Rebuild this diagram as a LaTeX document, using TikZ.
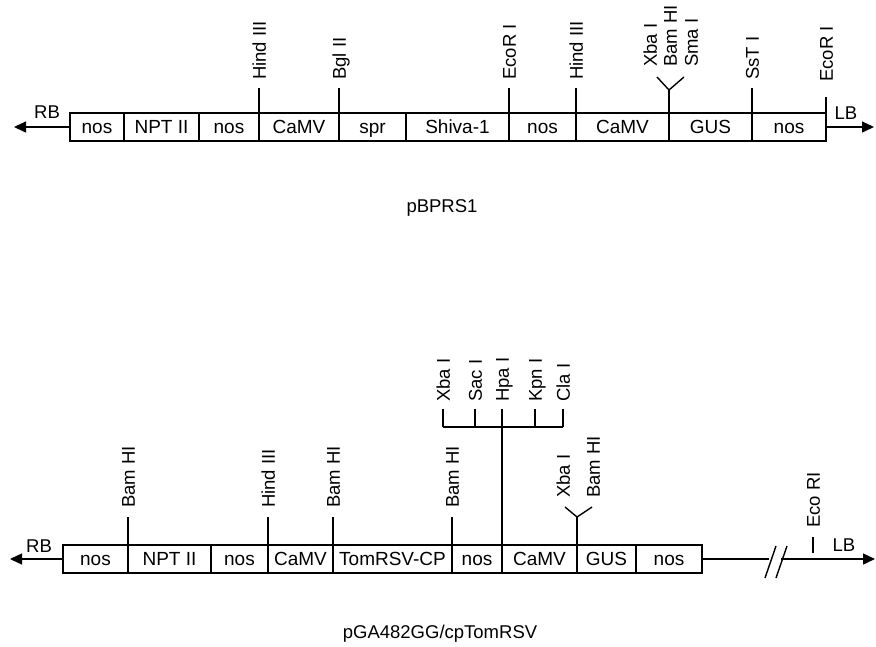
\documentclass[tikz,border=0pt]{standalone}
\usepackage{fontspec}
\setmainfont{Liberation Sans}
\usetikzlibrary{arrows.meta}

\begin{document}
\begin{tikzpicture}[x=1pt, y=-1pt,
  gene/.style={draw, line width=1.4pt, anchor=west, minimum height=28pt, inner sep=0pt, outer sep=0pt,
               text height=13.5pt, text depth=0pt, font=\fontsize{19}{22}\selectfont},
  site/.style={rotate=90, anchor=west, inner sep=0pt, text height=13.5pt, text depth=0pt,
               font=\fontsize{18.5}{22}\selectfont},
  lbl/.style={inner sep=0pt, font=\fontsize{18.5}{22}\selectfont},
  cut/.style={line width=1.4pt},
  border/.style={line width=1.4pt, -{Triangle[length=12pt, width=11pt]}},
]
  \useasboundingbox (0,0) rectangle (876,646);

  % pBPRS1
  \foreach \n/\l/\r/\t in {a1/70/124/nos, a2/124/199/NPT II, a3/199/259/nos, a4/259/339/CaMV,
                           a5/339/406/spr, a6/406/509/Shiva-1, a7/509/576/nos, a8/576/669/CaMV,
                           a9/669/752/GUS, a10/752/826/nos}
    \node[gene, minimum width={(\r-\l)*1pt}] (\n) at (\l,127) {\t};

  \foreach \n/\b/\t in {s1/a4/Hind III, s2/a5/Bgl II, s3/a7/EcoR I, s4/a8/Hind III, s6/a10/SsT I} {
    \node[site] (\n) at ([yshift=33pt]\b.north west) {\t};
    \draw[cut] (\b.north west) -- ([yshift=-8pt]\n.west);
  }
  \node[site] (s7) at ([yshift=31pt]a10.north east) {EcoR I};
  \draw[cut] (a10.north east) -- ([yshift=-15pt]s7.west);

  \coordinate (y1) at ([yshift=23pt]a9.north west);
  \coordinate (y1l) at (657,77);
  \coordinate (y1r) at (684,77);
  \node[site] (s5a) at (650,67) {Xba I};
  \node[site] (s5b) at (670,67) {Bam HI};
  \node[site] (s5c) at (691,67) {Sma I};
  \draw[cut] (a9.north west) -- (y1);
  \draw[cut] (y1l) -- (y1) -- (y1r);

  \coordinate (rbtip1) at (14,127);
  \coordinate (lbtip1) at (874,127);
  \draw[border] (a1.west) -- (rbtip1);
  \draw[border] (a10.east) -- (lbtip1);
  \node[lbl] (rb1) at (47,112) {RB};
  \node[lbl] (lb1) at (846,113) {LB};

  \node[lbl] (cap1) at (442,208) {pBPRS1};

  % pGA482GG/cpTomRSV
  \foreach \n/\l/\r/\t in {b1/63/128/nos, b2/128/211/NPT II, b3/211/268/nos, b4/268/333/CaMV,
                           b5/333/452/TomRSV-CP, b6/452/502/nos, b7/502/577/CaMV, b8/577/636/GUS,
                           b9/636/702/nos}
    \node[gene, minimum width={(\r-\l)*1pt}] (\n) at (\l,559) {\t};

  \foreach \n/\b/\t in {t1/b2/Bam HI, t2/b4/Hind III, t3/b5/Bam HI, t4/b6/Bam HI} {
    \node[site] (\n) at ([yshift=37pt]\b.north west) {\t};
    \draw[cut] (\b.north west) -- ([yshift=-9pt]\n.west);
  }

  \coordinate (hp) at ([yshift=118pt]b7.north west);
  \draw[cut] (b7.north west) -- (hp);
  \foreach \n/\x/\t in {k1/443/Xba I, k2/475/Sac I, k3/502/Hpa I, k4/535/Kpn I, k5/563/Cla I} {
    \node[site] (\n) at (\x,402) {\t};
    \draw[cut] (\n.west |- hp) -- ([yshift=-7pt]\n.west);
  }
  \draw[cut] (k1.west |- hp) -- (k5.west |- hp);

  \coordinate (y2) at ([yshift=28pt]b8.north west);
  \coordinate (y2l) at (565,507);
  \coordinate (y2r) at (592,507);
  \node[site] (t5a) at (563,498) {Xba I};
  \node[site] (t5b) at (593,498) {Bam HI};
  \draw[cut] (b8.north west) -- (y2);
  \draw[cut] (y2l) -- (y2) -- (y2r);

  \coordinate (br1) at (769,559);
  \coordinate (br2) at (781,559);
  \draw[cut] (b9.east) -- (br1);
  \draw[cut] ([shift={(-4,19)}]br1) -- ([shift={(7,-13)}]br1);
  \draw[cut] ([shift={(-5,19)}]br2) -- ([shift={(6,-13)}]br2);

  \node[site] (e1) at (813,528) {Eco RI};
  \draw[cut] ([yshift=-9pt]e1.west) -- ([yshift=-25pt]e1.west);

  \coordinate (rbtip2) at (10,559);
  \coordinate (lbtip2) at (875,559);
  \draw[border] (b1.west) -- (rbtip2);
  \draw[border] (br2) -- (lbtip2);
  \node[lbl] (rb2) at (39,546) {RB};
  \node[lbl] (lb2) at (844,545) {LB};

  \node[lbl] (cap2) at (440,634) {pGA482GG/cpTomRSV};
\end{tikzpicture}
\end{document}
